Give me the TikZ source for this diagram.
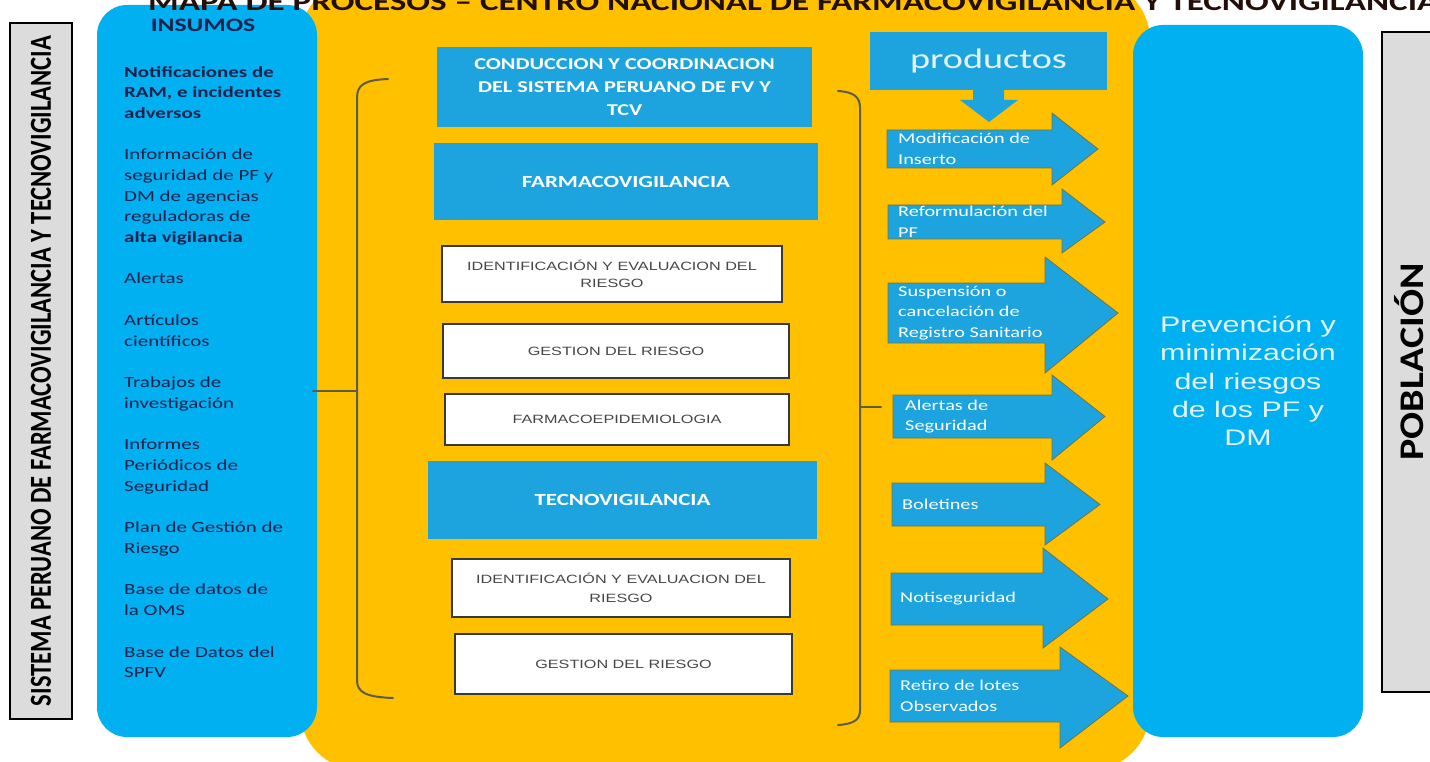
\documentclass[tikz,border=0pt]{standalone}
\usepackage{graphicx}
\usepackage{fontspec}
\setmainfont[FakeStretch=1.35]{Carlito}
\newfontfamily\arialfont[FakeStretch=1.35]{Liberation Sans}

\definecolor{procyellow}{RGB}{255,192,0}
\definecolor{skyblue}{RGB}{0,176,240}
\definecolor{procblue}{RGB}{29,164,222}
\definecolor{navytext}{RGB}{22,34,78}
\definecolor{paletext}{RGB}{228,243,251}
\definecolor{tasktext}{RGB}{70,70,70}
\definecolor{boxline}{RGB}{55,58,60}
\definecolor{sidegray}{RGB}{220,220,220}
\definecolor{braceline}{RGB}{95,92,70}
\definecolor{arrowline}{RGB}{120,115,60}
\definecolor{titletext}{RGB}{35,15,10}

\tikzset{
  panel/.style={fill=skyblue, rounded corners=30pt, inner sep=0pt, outer sep=0pt},
  procbox/.style={fill=procblue, text=white, font=\bfseries\fontsize{17}{23}\selectfont, align=center, inner sep=0pt},
  taskbox/.style={draw=boxline, line width=2.5pt, fill=white, text=tasktext, font=\arialfont\fontsize{12}{17}\selectfont, align=center, inner sep=0pt},
  sidebox/.style={draw=black, line width=1.3pt, fill=sidegray, inner sep=0pt},
  prodarrow/.style={fill=procblue, draw=arrowline, line width=0.8pt},
  arrowtext/.style={anchor=west, align=left, inner sep=0pt, text=white, font=\fontsize{15}{20.5}\selectfont},
  bracketline/.style={draw=braceline, line width=2pt, line cap=round},
}

% x1, y1, y2, head base x, head top, head bottom, tip x
\newcommand{\prodarrow}[7]{%
  \filldraw[prodarrow] (#1,#2) -- (#4,#2) -- (#4,#5) -- (#7,{(#2+#3)/2}) -- (#4,#6) -- (#4,#3) -- (#1,#3) -- cycle;}

\begin{document}
\begin{tikzpicture}[x=1pt, y=-1pt]
    \path[use as bounding box] (0,0) rectangle (1430,762);
    \clip (0,0) rectangle (1430,762);
    \fill[white] (0,0) rectangle (1430,762);
    \fill[procyellow, rounded corners=60pt] (300,-20) rectangle (1150,770);

    \node[sidebox, rotate=90, minimum width=696pt, minimum height=62pt] (sistema) at (41,371)
        {\resizebox{670pt}{20pt}{\bfseries SISTEMA PERUANO DE FARMACOVIGILANCIA Y TECNOVIGILANCIA}};
    \draw[sidebox] (1382,32) rectangle (1445,692);
    \node[rotate=90, inner sep=0pt] (poblacion) at (1409,362)
        {\resizebox{197pt}{29pt}{\bfseries POBLACIÓN}};

    \node[panel, minimum width=220pt, minimum height=732pt] (insumos) at (207,371) {};
    \node[text=navytext, font=\bfseries\fontsize{19}{19}\selectfont, inner sep=0pt] (insumostit) at (203,25) {INSUMOS};
    \node[anchor=north west, align=left, inner sep=0pt, text=navytext, font=\fontsize{15.5}{20.6}\selectfont] (insumoslist) at (124,66) {%
        \textbf{Notificaciones de}\\\textbf{RAM, e incidentes}\\\textbf{adversos}\\[21pt]
        Información de\\seguridad de PF y\\DM de agencias\\reguladoras de\\\textbf{alta vigilancia}\\[21pt]
        Alertas\\[21pt]
        Artículos\\científicos\\[21pt]
        Trabajos de\\investigación\\[21pt]
        Informes\\Periódicos de\\Seguridad\\[21pt]
        Plan de Gestión de\\Riesgo\\[21pt]
        Base de datos de\\la OMS\\[21pt]
        Base de Datos del\\SPFV};

    \node[panel, minimum width=230pt, minimum height=712pt, text=paletext, align=center,
        font=\arialfont\fontsize{22.5}{28.3}\selectfont] (prevencion) at (1248,381)
        {Prevención y\\minimización\\del riesgos\\de los PF y\\DM};

    \node[procbox, minimum width=375pt, minimum height=80pt, font=\bfseries\fontsize{16.5}{23}\selectfont] (conduccion) at (624.5,87)
        {CONDUCCION Y COORDINACION\\DEL SISTEMA PERUANO DE FV Y\\TCV};
    \node[procbox, minimum width=384pt, minimum height=77pt] (farmaco) at (626,181.5) {FARMACOVIGILANCIA};
    \node[taskbox, minimum width=340pt, minimum height=56pt] (identfv) at (612,274) {IDENTIFICACIÓN Y EVALUACION DEL\\RIESGO};
    \node[taskbox, minimum width=346pt, minimum height=54pt] (gestfv) at (616,351) {GESTION DEL RIESGO};
    \node[taskbox, minimum width=344pt, minimum height=51pt] (epidem) at (617,419.5) {FARMACOEPIDEMIOLOGIA};
    \node[procbox, minimum width=389pt, minimum height=78pt] (tecno) at (622.5,500) {TECNOVIGILANCIA};
    \node[taskbox, minimum width=338pt, minimum height=58pt, font=\arialfont\fontsize{12}{19}\selectfont] (identtv) at (621,588) {IDENTIFICACIÓN Y EVALUACION DEL\\RIESGO};
    \node[taskbox, minimum width=337pt, minimum height=60pt] (gesttv) at (623.5,664) {GESTION DEL RIESGO};

    \draw[bracketline] (388,79) .. controls (364,80) and (357,85) .. (357,98) -- (357,680) .. controls (357,692) and (365,697) .. (393,698);
    \draw[bracketline] (357,391) -- (313,391);
    \draw[bracketline] (838,91) .. controls (854,92) and (860,97) .. (860,108) -- (860,710) .. controls (860,719) and (855,724) .. (838,725);
    \draw[bracketline] (860,407) -- (881,407);

    \node[fill=procblue, text=paletext, minimum width=237pt, minimum height=58pt, inner sep=0pt,
        font=\fontsize{28.3}{30}\selectfont] (productos) at (988.5,61) {productos};
    \fill[procblue] (973,90) -- (1004,90) -- (1004,100) -- (1018,100) -- (989,122) -- (960,100) -- (973,100) -- cycle;

    \prodarrow{887}{130}{168}{1052}{113}{185}{1098}
    \prodarrow{888}{205}{239}{1062}{189}{253}{1105}
    \prodarrow{888}{283}{343}{1045}{257}{373}{1118}
    \prodarrow{893}{395}{438}{1052}{375}{460}{1105}
    \prodarrow{892}{483}{526}{1045}{463}{545}{1100}
    \prodarrow{891}{573}{625}{1043}{548}{648}{1108}
    \prodarrow{890}{670}{722}{1060}{647}{748}{1128}
    \node[arrowtext] (modif) at (898,149) {Modificación de\\Inserto};
    \node[arrowtext] (reform) at (898,222) {Reformulación del\\PF};
    \node[arrowtext] (suspen) at (898,313) {Suspensión o\\cancelación de\\Registro Sanitario};
    \node[arrowtext] (alertas) at (905,416.5) {Alertas de\\Seguridad};
    \node[arrowtext] (boletin) at (902,504.5) {Boletines};
    \node[arrowtext] (notiseg) at (900,599) {Notiseguridad};
    \node[arrowtext] (retiro) at (900,696) {Retiro de lotes\\Observados};

    \node[anchor=base west, inner sep=0pt, text=titletext] (titulo) at (148,11)
        {\resizebox{1290pt}{!}{\bfseries MAPA DE PROCESOS – CENTRO NACIONAL DE FARMACOVIGILANCIA Y TECNOVIGILANCIA}};
\end{tikzpicture}
\end{document}
